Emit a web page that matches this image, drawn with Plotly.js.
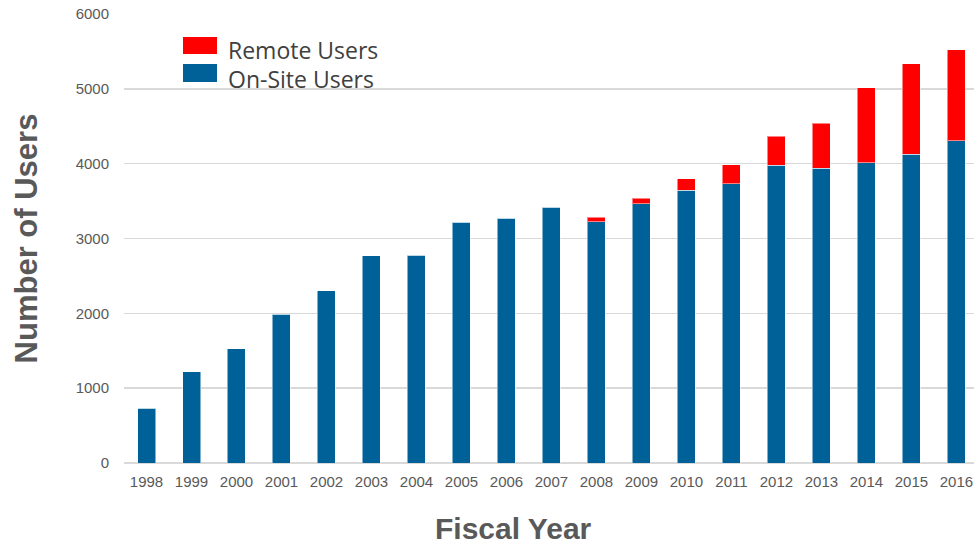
<!DOCTYPE html>
<html>
<head>
<meta charset="utf-8">
<script src="https://cdn.plot.ly/plotly-3.0.1.min.js"></script>
<style>html,body{margin:0;padding:0;background:#fff;}#chart{width:974px;height:546px;}</style>
</head>
<body>
<div id="chart"></div>
<script>
const years = ["1998","1999","2000","2001","2002","2003","2004","2005","2006","2007","2008","2009","2010","2011","2012","2013","2014","2015","2016"];
const onSiteUsers = [730,1220,1530,1990,2300,2770,2775,3216,3270,3415,3225,3465,3644,3732,3978,3938,4009,4125,4307];
const remoteUsers = [0,0,0,0,0,0,0,0,0,6,58,72,155,254,388,601,1006,1207,1212];
const seriesNames = ["On-Site Users","Remote Users"];
const seriesColors = ["#006199","#ff0000"];

const W = 974, H = 546, L = 124, R = 0, T = 14, B = 83;
const pw = W - L - R, ph = H - T - B;
const px = v => (v - L) / pw;
const py = v => (H - B - v) / ph;

const traces = [
  {type:'bar', name:seriesNames[0], x:years, y:onSiteUsers,
   marker:{color:seriesColors[0], line:{color:'rgba(255,255,255,0.5)', width:1}}},
  {type:'bar', name:seriesNames[1], x:years, y:remoteUsers,
   marker:{color:seriesColors[1], line:{color:'rgba(255,255,255,0.5)', width:1}}}
];

// legend drawn with swatches + text (large swatches like the reference)
const legendItems = [
  {name:seriesNames[1], color:seriesColors[1], y0:37, y1:54, ty:50},
  {name:seriesNames[0], color:seriesColors[0], y0:64, y1:82, ty:79}
];
const shapes = legendItems.map(it => ({type:'rect', xref:'paper', yref:'paper',
  x0:px(183), x1:px(217), y0:py(it.y1), y1:py(it.y0), fillcolor:it.color, line:{width:0}}));
const annotations = legendItems.map(it => ({xref:'paper', yref:'paper', x:px(226), y:py(it.ty),
  xanchor:'left', yanchor:'middle', showarrow:false, text:it.name,
  font:{family:'Open Sans, sans-serif', size:23, color:'#404040'}}));
annotations.push({xref:'paper', yref:'paper', x:px(513), y:py(528), xanchor:'center', yanchor:'middle',
  showarrow:false, text:'<b>Fiscal Year</b>',
  font:{family:'Liberation Sans, Arial, sans-serif', size:30, color:'#595959'}});

const layout = {
  width:W, height:H,
  margin:{l:L, r:R, t:T, b:B},
  barmode:'stack', bargap:0.6,
  paper_bgcolor:'#fff', plot_bgcolor:'#fff',
  font:{family:'Liberation Sans, Arial, sans-serif', color:'#595959', size:15},
  showlegend:false,
  xaxis:{type:'category', range:[-0.5,18.39], tickfont:{size:15, color:'#595959'},
    showgrid:false, ticks:'', ticklen:0, showline:false, zeroline:false, ticklabelstandoff:8},
  yaxis:{range:[0,6000], dtick:1000, tickfont:{size:15, color:'#595959'},
    showgrid:true, gridcolor:'#d9d9d9', gridwidth:1.5, zeroline:true, zerolinecolor:'#d9d9d9', zerolinewidth:1.5,
    ticks:'', ticklabelstandoff:14, showline:false,
    title:{text:'Number of Users', font:{size:31, color:'#595959', family:'Liberation Sans, Arial, sans-serif', weight:'bold'}, standoff:28}},
  shapes:shapes,
  annotations:annotations
};

Plotly.newPlot('chart', traces, layout, {displayModeBar:false, staticPlot:true});
</script>
</body>
</html>
